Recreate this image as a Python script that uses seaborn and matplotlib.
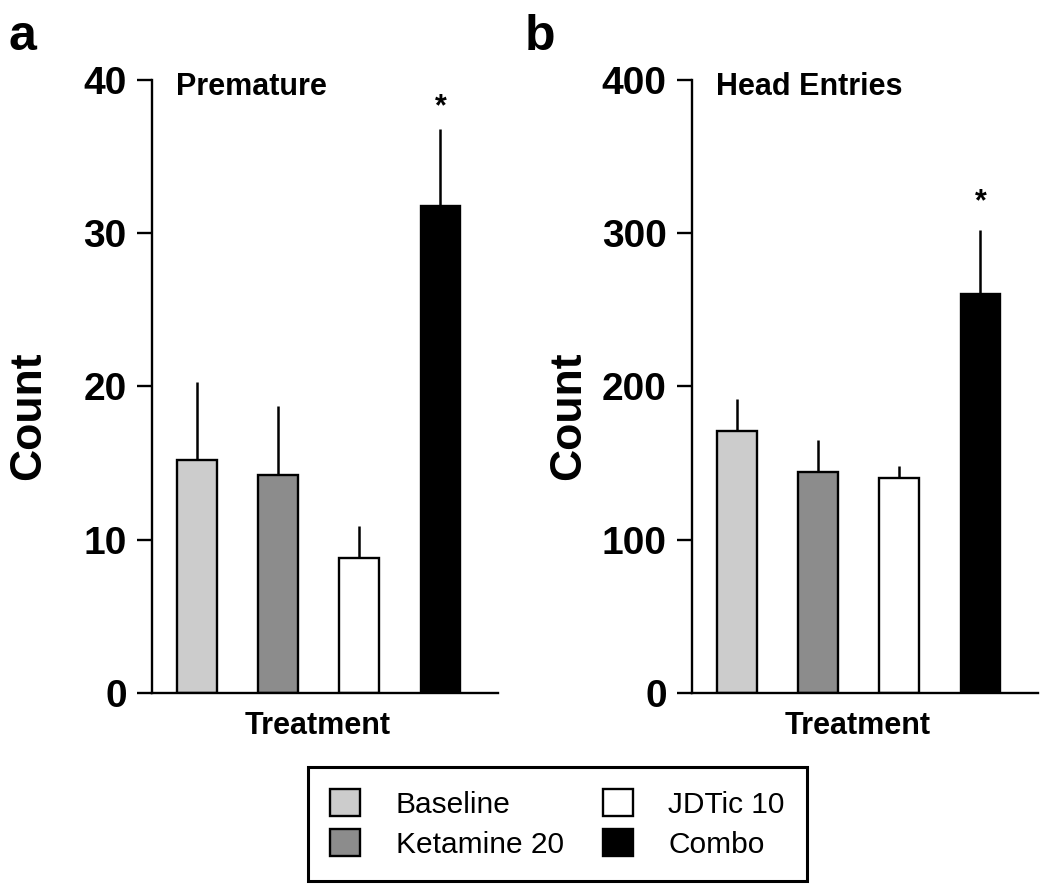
import pandas as pd
import matplotlib.pyplot as plt
import seaborn as sns
from matplotlib.patches import Patch

TREATMENTS = ["Baseline", "Ketamine 20", "JDTic 10", "Combo"]
COLORS     = ["#cccccc", "#8c8c8c", "#ffffff", "#000000"]

PREMATURE_MEAN = [15.2, 14.2, 8.8, 31.8]
PREMATURE_SEM  = [5.1, 4.5, 2.1, 5.0]

HEAD_MEAN = [171, 144, 140, 260]
HEAD_SEM  = [21, 21, 8, 42]

PANELS = [
    ("a", "Premature", PREMATURE_MEAN, PREMATURE_SEM, [0, 10, 20, 30, 40], 5),
    ("b", "Head Entries", HEAD_MEAN, HEAD_SEM, [0, 100, 200, 300, 400], 9),
]

sns.set_theme(style="white")
plt.rcParams["font.family"] = ["Liberation Sans", "DejaVu Sans"]
plt.rcParams["text.color"] = "black"
plt.rcParams["axes.labelcolor"] = "black"

fig = plt.figure(figsize=(10.5, 8.91), dpi=100)
ax_a = fig.add_axes([0.1445, 0.2226, 0.3298, 0.6876])
ax_b = fig.add_axes([0.6588, 0.2226, 0.3298, 0.6876])

for ax, (letter, title, means, sems, yticks, star_off) in zip([ax_a, ax_b], PANELS):
    df = pd.DataFrame({"treatment": TREATMENTS, "mean": means, "sem": sems})
    sns.barplot(data=df, x="treatment", y="mean", hue="treatment",
                palette=COLORS, width=0.49, edgecolor="black",
                linewidth=1.7, errorbar=None, legend=False, ax=ax)

    xs = [p.get_x() + p.get_width() / 2 for p in ax.patches]
    ax.errorbar(xs, df["mean"], yerr=[[0] * len(df), df["sem"]],
                fmt="none", ecolor="black", elinewidth=1.8, capsize=0, zorder=0.5)

    # significance star over Combo
    ax.annotate("*", xy=(xs[3], means[3] + sems[3]), xytext=(0, star_off),
                textcoords="offset points", ha="center", va="bottom",
                fontsize=22, fontweight="bold")

    ax.set_xlim(-0.56, 3.71)
    ax.set_ylim(yticks[0], yticks[-1])
    ax.set_yticks(yticks)
    ax.set_xticks([])
    sns.despine(ax=ax)
    for s in ["left", "bottom"]:
        ax.spines[s].set_linewidth(1.7)
        ax.spines[s].set_color("black")
    ax.tick_params(axis="y", direction="out", length=11, width=1.7,
                   pad=7, labelsize=28, left=True, colors="black")
    for lab in ax.get_yticklabels():
        lab.set_fontweight("bold")

    ax.set_xlabel("Treatment", fontsize=22, fontweight="bold", va="top")
    ax.xaxis.set_label_coords(0.48, -0.03)
    ax.set_ylabel("Count", fontsize=32, fontweight="bold")
    ax.yaxis.set_label_coords(-0.295, 0.452)

    ax.text(0.07, 0.975, title, transform=ax.transAxes, fontsize=22,
            fontweight="bold", va="baseline", ha="left")

fig.text(0.008, 0.944, "a", fontsize=36, fontweight="bold", va="baseline")
fig.text(0.500, 0.944, "b", fontsize=36, fontweight="bold", va="baseline")

handles = [Patch(facecolor=c, edgecolor="black", linewidth=1.7) for c in COLORS]
leg = fig.legend(handles, TREATMENTS, ncol=2, loc="center",
                 bbox_to_anchor=(0.531, 0.0752), fontsize=21.5,
                 handlelength=1.0, handleheight=1.0, handletextpad=1.2,
                 columnspacing=1.3, labelspacing=0.35, borderpad=0.75,
                 borderaxespad=0, frameon=True, fancybox=False, framealpha=1)
leg.get_frame().set_edgecolor("black")
leg.get_frame().set_linewidth(2.2)

plt.savefig("out.png", dpi=100)
plt.close()
